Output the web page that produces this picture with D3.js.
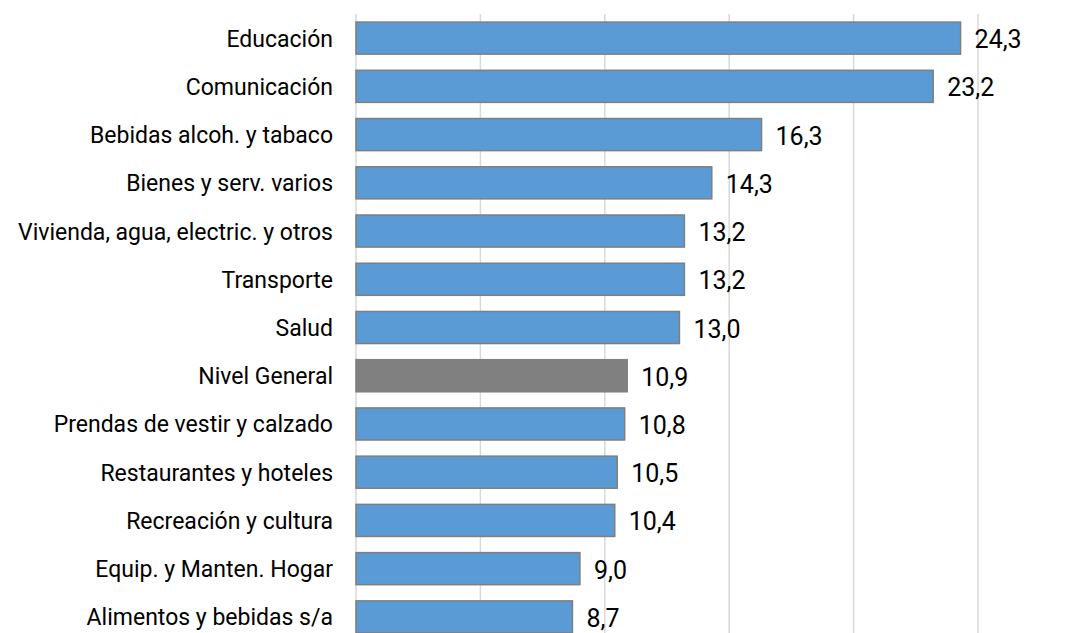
<!DOCTYPE html>
<html>
<head>
<meta charset="utf-8">
<script src="https://d3js.org/d3.v7.min.js"></script>
<style>
  body { margin: 0; background: #fff; }
  text { font-family: "Roboto", "Liberation Sans", sans-serif; fill: #000; }
</style>
</head>
<body>
<div id="chart"></div>
<script>
// categories, top to bottom
var categories = [
    "Educación", "Comunicación", "Bebidas alcoh. y tabaco", "Bienes y serv. varios",
    "Vivienda, agua, electric. y otros", "Transporte", "Salud", "Nivel General",
    "Prendas de vestir y calzado", "Restaurantes y hoteles", "Recreación y cultura",
    "Equip. y Manten. Hogar", "Alimentos y bebidas s/a"
]
var values = [24.3, 23.2, 16.3, 14.3, 13.2, 13.2, 13.0, 10.9, 10.8, 10.5, 10.4, 9.0, 8.7]
var xTicks = [0, 5, 10, 15, 20, 25]
var highlight = "Nivel General"

var data = categories.map(function(c, i) { return { name: c, value: values[i] } })

var margin = { top: 14, right: 111, bottom: -8, left: 356 },
    width = 1089 - margin.left - margin.right,
    height = 633 - margin.top - margin.bottom;

var svg = d3.select("#chart")
    .append("svg")
    .attr("width", 1089)
    .attr("height", 633)
    .append("g")
    .attr("transform", "translate(" + margin.left + "," + margin.top + ")");

var x = d3.scaleLinear()
    .domain([0, 25])
    .range([0, width]);

var y = d3.scaleBand()
    .domain(categories)
    .range([0, height])
    .paddingInner(0.335)
    .paddingOuter(0.1675);

// vertical gridlines
svg.append("g")
    .selectAll("line")
    .data(xTicks)
    .enter()
    .append("line")
    .attr("x1", function(d) { return x(d); })
    .attr("x2", function(d) { return x(d); })
    .attr("y1", 0)
    .attr("y2", height)
    .attr("stroke", "#d9d9d9")
    .attr("stroke-width", 1.5);

// category labels
var yAxis = svg.append("g")
    .call(d3.axisLeft(y).tickSize(0).tickPadding(23));
yAxis.select(".domain").remove();
yAxis.selectAll("text")
    .style("font-size", "23px")
    .style("font-family", "Roboto, sans-serif")
    .style("fill", "#000")
    .attr("dy", "0.37em");

// bars
svg.selectAll("rect.bar")
    .data(data)
    .enter()
    .append("rect")
    .attr("class", "bar")
    .attr("x", x(0))
    .attr("y", function(d) { return y(d.name); })
    .attr("width", function(d) { return x(d.value); })
    .attr("height", y.bandwidth())
    .attr("fill", function(d) { return d.name == highlight ? "#808080" : "#5b9bd5"; })
    .attr("stroke", "#7f7f7f")
    .attr("stroke-width", 1.5);

var f = d3.format(".1f")
svg.selectAll(".label")
    .data(data)
    .enter()
    .append("text")
    .attr("class", "label")
    .attr("x", function(d) { return x(d.value) + 14; })
    .attr("y", function(d) { return y(d.name) + y.bandwidth() / 2; })
    .attr("dy", "0.4em")
    .style("font-size", "25px")
    .text(function(d) { return f(d.value).replace(".", ","); });
</script>
</body>
</html>
